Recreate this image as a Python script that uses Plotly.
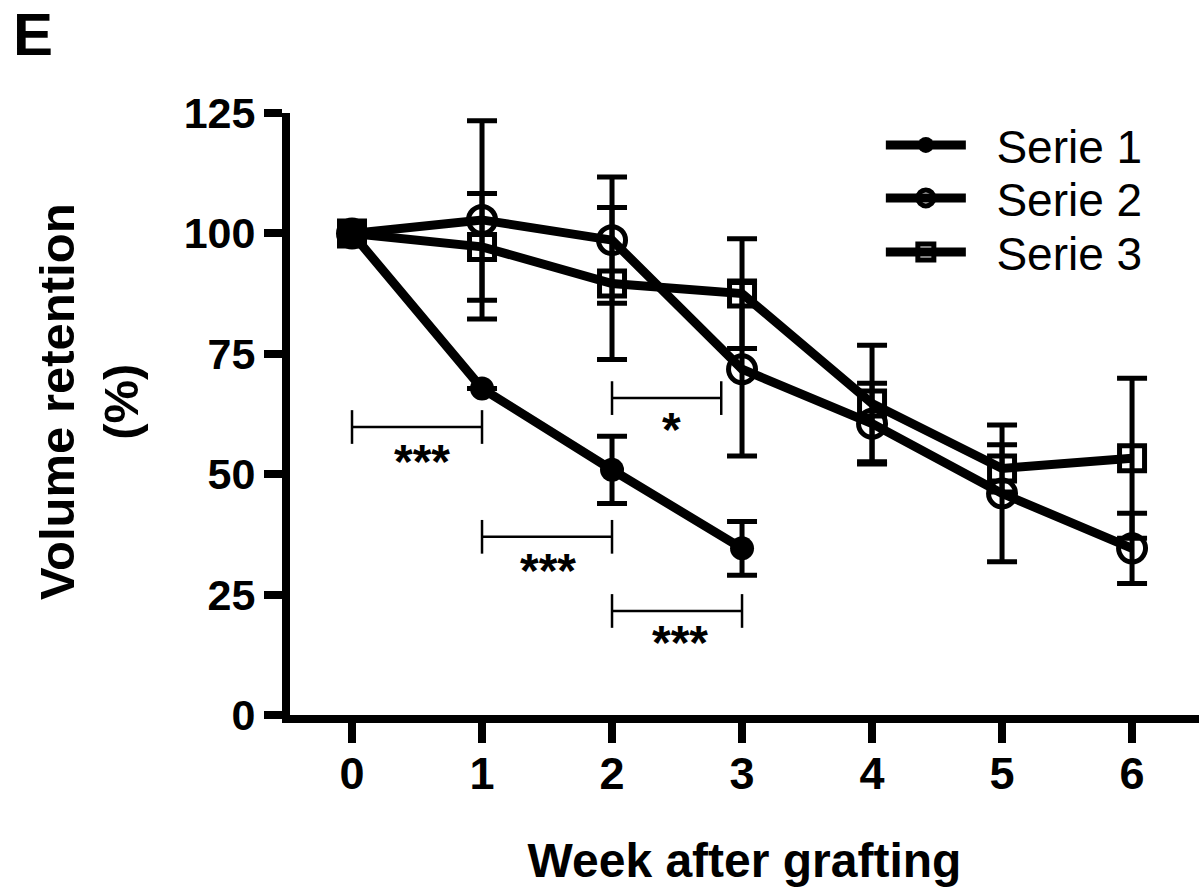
import plotly.graph_objects as go

# ---- data ----
weeks = [0, 1, 2, 3, 4, 5, 6]
series_names = ["Serie 1", "Serie 2", "Serie 3"]

s1_weeks = [0, 1, 2, 3]
s1_vals = [100, 67.8, 50.9, 34.6]
s1_err = [None, None, 7.0, 5.6]

s2_vals = [100, 102.8, 98.6, 71.8, 60.5, 46.0, 34.6]
s2_err = [None, 20.6, 13.1, 18.0, 8.4, 14.2, 7.3]

s3_vals = [100, 97.2, 89.6, 87.5, 64.7, 51.2, 53.3]
s3_err = [None, 11.1, 15.8, 11.4, 12.1, 4.9, 16.6]

x_ticks = [0, 1, 2, 3, 4, 5, 6]
y_ticks = [0, 25, 50, 75, 100, 125]

# significance brackets: start week, end week, level, label, label position
sig_x0 = [0, 1, 2, 2]
sig_x1 = [1, 2, 3, 2.84]
sig_y = [59.8, 37.0, 21.6, 65.8]
sig_labels = ["***", "***", "***", "*"]
sig_label_x = [0.54, 1.51, 2.52, 2.46]
sig_label_y = [52.6, 30.1, 15.0, 59.3]

FONT = "Liberation Sans, Arial, sans-serif"
NBSP = "\u00a0"

fig = go.Figure()

common_err = dict(type="data", visible=True, color="black", thickness=5, width=15)

fig.add_trace(go.Scatter(
    x=s1_weeks, y=s1_vals, name=NBSP * 2 + series_names[0], mode="lines+markers",
    line=dict(color="black", width=9),
    marker=dict(symbol="circle", size=24, color="black"),
    error_y=dict(array=s1_err, **common_err),
    legend="legend",
))
fig.add_trace(go.Scatter(
    x=weeks, y=s2_vals, name=NBSP * 2 + series_names[1], mode="lines+markers",
    line=dict(color="black", width=9),
    marker=dict(symbol="circle-open", size=27, color="black", line=dict(width=5, color="black")),
    error_y=dict(array=s2_err, **common_err),
    legend="legend2",
))
fig.add_trace(go.Scatter(
    x=weeks, y=s3_vals, name=NBSP * 2 + series_names[2], mode="lines+markers",
    line=dict(color="black", width=9),
    marker=dict(symbol="square-open", size=25, color="black", line=dict(width=5, color="black")),
    error_y=dict(array=s3_err, **common_err),
    legend="legend3",
))

TICK_HALF = 3.5
for a, b, y, lab, lx, ly in zip(sig_x0, sig_x1, sig_y, sig_labels, sig_label_x, sig_label_y):
    fig.add_shape(type="line", x0=a, x1=b, y0=y, y1=y, line=dict(color="black", width=2.5))
    fig.add_shape(type="line", x0=a, x1=a, y0=y - TICK_HALF, y1=y + TICK_HALF, line=dict(color="black", width=2.5))
    fig.add_shape(type="line", x0=b, x1=b, y0=y - TICK_HALF, y1=y + TICK_HALF, line=dict(color="black", width=2.5))
    fig.add_annotation(x=lx, y=ly, text=lab, showarrow=False,
                       font=dict(family=FONT, size=48, color="black", weight="bold"),
                       xanchor="center", yanchor="middle")

PLOT_W, PLOT_H, ML, MB = 909, 602, 290, 180
# panel letter
fig.add_annotation(xref="paper", yref="paper", x=(12 - ML) / PLOT_W, y=(715 - 0) / PLOT_H,
                   text="<b>E</b>", showarrow=False, xanchor="left", yanchor="top",
                   borderpad=0, font=dict(family=FONT, size=60, color="black"))
# y axis title
fig.add_annotation(xref="paper", yref="paper", x=(89 - ML) / PLOT_W, y=(715 - 402) / PLOT_H,
                   text="<b>Volume retention<br>(%)</b>", showarrow=False, textangle=-90,
                   xanchor="center", yanchor="middle",
                   font=dict(family=FONT, size=49, color="black"))

leg_common = dict(x=0.650, xanchor="left", yanchor="middle",
                  font=dict(family=FONT, size=46, color="black"),
                  bgcolor="rgba(0,0,0,0)", itemwidth=80)
row_y = [(715 - 145) / PLOT_H, (715 - 198) / PLOT_H, (715 - 252) / PLOT_H]

fig.update_layout(
    width=1199, height=895,
    margin=dict(l=ML, r=0, t=113, b=MB),
    paper_bgcolor="white", plot_bgcolor="white",
    font=dict(family=FONT, color="black"),
    showlegend=True,
    legend=dict(y=row_y[0], **leg_common),
    legend2=dict(y=row_y[1], **leg_common),
    legend3=dict(y=row_y[2], **leg_common),
    xaxis=dict(
        range=[-0.477, 6.515], tickvals=x_ticks, ticktext=[str(v) for v in x_ticks],
        showline=True, linecolor="black", linewidth=8,
        ticks="outside", ticklen=20, tickwidth=8, tickcolor="black",
        ticklabelstandoff=-8,
        showgrid=False, zeroline=False,
        tickfont=dict(family=FONT, size=45, color="black", weight="bold"),
        title=dict(text="<b>Week after grafting</b>", standoff=48,
                   font=dict(family=FONT, size=48, color="black")),
    ),
    yaxis=dict(
        range=[0, 125], tickvals=y_ticks, ticktext=[str(v) for v in y_ticks],
        showline=True, linecolor="black", linewidth=8,
        ticks="outside", ticklen=18, tickwidth=8, tickcolor="black",
        showgrid=False, zeroline=False,
        tickfont=dict(family=FONT, size=43, color="black", weight="bold"),
    ),
)

fig.write_html("out.html")
